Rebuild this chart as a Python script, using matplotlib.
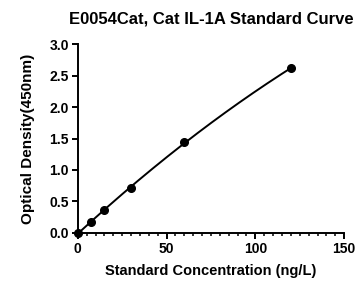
import numpy as np
import matplotlib.pyplot as plt
from matplotlib.ticker import MultipleLocator

plt.rcParams['font.family'] = ['Liberation Sans', 'DejaVu Sans']
plt.rcParams['font.weight'] = 'bold'

# standard curve data
conc = [0, 7.5, 15, 30, 60, 120]
od = [0.0, 0.17, 0.366, 0.72, 1.44, 2.62]

# smooth fitted curve through the standards
coef = np.polyfit(conc, od, 2)
xs = np.linspace(0, 120, 200)
ys = np.polyval(coef, xs)

fig = plt.figure(figsize=(3.6, 2.86), dpi=100)
ax = fig.add_axes([0.216, 0.186, 0.740, 0.659])

ax.plot(xs, ys, color='black', lw=1.4)
ax.plot(conc, od, 'o', color='black', ms=5.5, clip_on=False, zorder=3)

ax.set_xlim(0, 150)
ax.set_ylim(0, 3.0)
ax.xaxis.set_major_locator(MultipleLocator(50))
ax.xaxis.set_minor_locator(MultipleLocator(5))
ax.yaxis.set_major_locator(MultipleLocator(0.5))
ax.yaxis.set_major_formatter(plt.FormatStrFormatter('%.1f'))

for s in ['top', 'right']:
    ax.spines[s].set_visible(False)
for s in ['left', 'bottom']:
    ax.spines[s].set_linewidth(1.4)
ax.tick_params(which='major', length=4, width=1.4, labelsize=10, pad=2.5)
ax.tick_params(which='minor', length=2.5, width=1.1)

ax.set_title('E0054Cat, Cat IL-1A Standard Curve', fontsize=12, fontweight='bold', pad=15)
ax.set_xlabel('Standard Concentration (ng/L)', fontsize=10.5, fontweight='bold', labelpad=6)
ax.set_ylabel('Optical Density(450nm)', fontsize=11, fontweight='bold', labelpad=10)

fig.savefig('out.png', dpi=100)
